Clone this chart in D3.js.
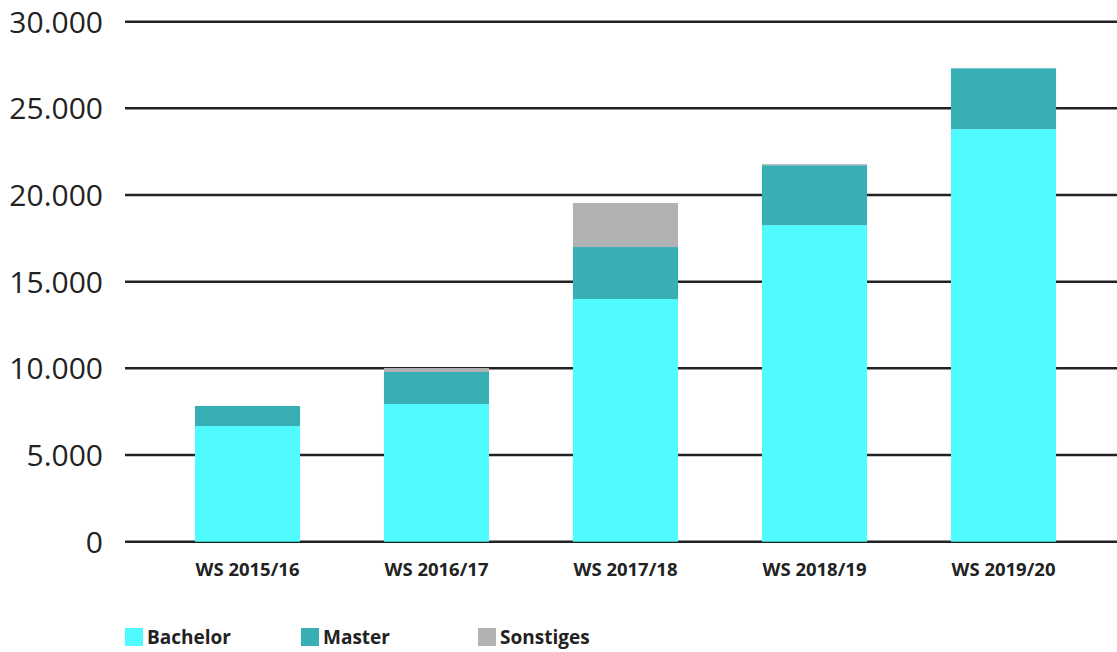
<!DOCTYPE html>
<html>
<head>
<meta charset="utf-8">
<script src="https://cdn.jsdelivr.net/npm/d3@7"></script>
<style>
  body { margin: 0; background: #fff; }
  text { font-family: "Open Sans", "Noto Sans", sans-serif; fill: #222; }
</style>
</head>
<body>
<div id="chart"></div>
<script>
// semesters and student counts per degree type
var semesters = ["WS 2015/16", "WS 2016/17", "WS 2017/18", "WS 2018/19", "WS 2019/20"];
var bachelor  = [6670, 7940, 14000, 18260, 23800];
var master    = [1160, 1850, 3000, 3460, 3510];
var sonstiges = [0, 230, 2540, 60, 0];
var seriesNames = ["Bachelor", "Master", "Sonstiges"];
var colors = ["#4ffbff", "#37afb4", "#b1b2b4"];
var yTicks = [0, 5000, 10000, 15000, 20000, 25000, 30000];

var width = 1117, height = 652;

var svg = d3.select("#chart").append("svg")
	.attr("width", width)
	.attr("height", height);

var data = semesters.map(function(s, i) {
	return { semester: s, Bachelor: bachelor[i], Master: master[i], Sonstiges: sonstiges[i] };
});

var stack = d3.stack().keys(seriesNames);
var layers = stack(data);

// scales
var x = d3.scaleBand()
	.domain(semesters)
	.range([153, 1098])
	.paddingInner(0.444)
	.paddingOuter(0.222);

var y = d3.scaleLinear()
	.domain([0, 30000])
	.range([541.7, 21.7]);

var fmt = function(d) { return d === 0 ? "0" : d3.format(",")(d).replace(/,/g, "."); };

// gridlines (behind bars)
svg.append("g").selectAll("line")
	.data(yTicks)
	.enter().append("line")
	.attr("x1", 125)
	.attr("x2", width)
	.attr("y1", function(d) { return y(d); })
	.attr("y2", function(d) { return y(d); })
	.attr("stroke", "#222")
	.attr("stroke-width", 2.5);

// y labels
svg.append("g").selectAll("text")
	.data(yTicks)
	.enter().append("text")
	.attr("x", 103)
	.attr("y", function(d) { return y(d); })
	.attr("dy", "0.36em")
	.attr("text-anchor", "end")
	.style("font-size", "30px")
	.text(fmt);

// bars
svg.append("g").selectAll("g")
	.data(layers)
	.enter().append("g")
	.attr("fill", function(d, i) { return colors[i]; })
	.selectAll("rect")
	.data(function(d) { return d; })
	.enter().append("rect")
	.attr("x", function(d) { return x(d.data.semester); })
	.attr("y", function(d) { return y(d[1]); })
	.attr("height", function(d) { return y(d[0]) - y(d[1]); })
	.attr("width", x.bandwidth());

// x labels
svg.append("g").selectAll("text")
	.data(semesters)
	.enter().append("text")
	.attr("x", function(d) { return x(d) + x.bandwidth() / 2; })
	.attr("y", 576)
	.attr("text-anchor", "middle")
	.style("font-size", "18.5px")
	.style("font-weight", "bold")
	.text(function(d) { return d; });

// legend
var legendX = [125, 301, 478];
var legend = svg.append("g").selectAll("g")
	.data(seriesNames)
	.enter().append("g")
	.attr("transform", function(d, i) { return "translate(" + legendX[i] + ",628)"; });

legend.append("rect")
	.attr("width", 18)
	.attr("height", 18)
	.attr("fill", function(d, i) { return colors[i]; });

legend.append("text")
	.attr("x", 22)
	.attr("y", 9)
	.attr("dy", "0.36em")
	.style("font-size", "19px")
	.style("font-weight", "bold")
	.text(function(d) { return d; });
</script>
</body>
</html>
